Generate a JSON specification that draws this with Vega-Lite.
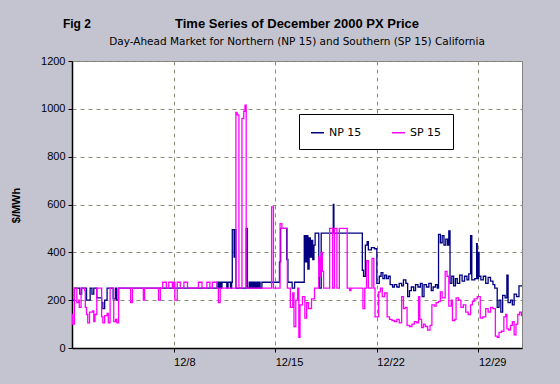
{
"$schema": "https://vega.github.io/schema/vega-lite/v6.json",
"width": 450, "height": 287,
"autosize": "none",
"padding": {"left": 72, "top": 61, "right": 38, "bottom": 36},
"background": "#c3c4d0",
"config": {"view": {"fill": "white", "stroke": "#808080", "strokeWidth": 1}, "font": "Liberation Sans"},
"title": {"text": "Time Series of December 2000 PX Price", "subtitle": "Day-Ahead Market for Northern (NP 15) and Southern (SP 15) California", "font": "Liberation Sans", "fontSize": 13, "fontWeight": "bold", "subtitleFont": "DejaVu Sans", "subtitleFontSize": 10.5, "color": "black", "subtitleColor": "black", "anchor": "middle", "frame": "group", "offset": -30, "subtitlePadding": 6},
"layer": [
{
"data": {"values": [
{"t":"2000-12-01T00:00","s":"NP 15","v":200},
{"t":"2000-12-01T04:00","s":"NP 15","v":250},
{"t":"2000-12-01T13:00","s":"NP 15","v":225},
{"t":"2000-12-01T16:00","s":"NP 15","v":250},
{"t":"2000-12-02T00:00","s":"NP 15","v":200},
{"t":"2000-12-02T06:00","s":"NP 15","v":250},
{"t":"2000-12-02T09:00","s":"NP 15","v":225},
{"t":"2000-12-02T12:00","s":"NP 15","v":250},
{"t":"2000-12-02T17:00","s":"NP 15","v":210},
{"t":"2000-12-03T01:00","s":"NP 15","v":190},
{"t":"2000-12-03T03:00","s":"NP 15","v":165},
{"t":"2000-12-03T06:00","s":"NP 15","v":200},
{"t":"2000-12-03T10:00","s":"NP 15","v":250},
{"t":"2000-12-03T20:00","s":"NP 15","v":205},
{"t":"2000-12-04T00:00","s":"NP 15","v":250},
{"t":"2000-12-04T02:00","s":"NP 15","v":200},
{"t":"2000-12-04T05:00","s":"NP 15","v":250},
{"t":"2000-12-11T00:00","s":"NP 15","v":275},
{"t":"2000-12-11T02:00","s":"NP 15","v":250},
{"t":"2000-12-11T04:00","s":"NP 15","v":275},
{"t":"2000-12-11T06:00","s":"NP 15","v":250},
{"t":"2000-12-11T08:00","s":"NP 15","v":275},
{"t":"2000-12-11T16:00","s":"NP 15","v":250},
{"t":"2000-12-11T18:00","s":"NP 15","v":275},
{"t":"2000-12-11T22:00","s":"NP 15","v":250},
{"t":"2000-12-12T00:00","s":"NP 15","v":275},
{"t":"2000-12-12T01:00","s":"NP 15","v":495},
{"t":"2000-12-12T04:00","s":"NP 15","v":380},
{"t":"2000-12-12T06:00","s":"NP 15","v":495},
{"t":"2000-12-12T07:00","s":"NP 15","v":250},
{"t":"2000-12-13T00:00","s":"NP 15","v":500},
{"t":"2000-12-13T02:00","s":"NP 15","v":250},
{"t":"2000-12-13T05:00","s":"NP 15","v":275},
{"t":"2000-12-13T07:00","s":"NP 15","v":250},
{"t":"2000-12-13T09:00","s":"NP 15","v":275},
{"t":"2000-12-13T11:00","s":"NP 15","v":250},
{"t":"2000-12-13T13:00","s":"NP 15","v":275},
{"t":"2000-12-13T15:00","s":"NP 15","v":250},
{"t":"2000-12-13T17:00","s":"NP 15","v":275},
{"t":"2000-12-13T19:00","s":"NP 15","v":250},
{"t":"2000-12-13T21:00","s":"NP 15","v":275},
{"t":"2000-12-13T23:00","s":"NP 15","v":250},
{"t":"2000-12-14T02:00","s":"NP 15","v":275},
{"t":"2000-12-15T07:00","s":"NP 15","v":360},
{"t":"2000-12-15T09:00","s":"NP 15","v":500},
{"t":"2000-12-15T19:00","s":"NP 15","v":370},
{"t":"2000-12-15T21:00","s":"NP 15","v":275},
{"t":"2000-12-16T04:00","s":"NP 15","v":250},
{"t":"2000-12-16T08:00","s":"NP 15","v":275},
{"t":"2000-12-17T00:00","s":"NP 15","v":470},
{"t":"2000-12-17T02:00","s":"NP 15","v":360},
{"t":"2000-12-17T04:00","s":"NP 15","v":470},
{"t":"2000-12-17T06:00","s":"NP 15","v":330},
{"t":"2000-12-17T08:00","s":"NP 15","v":460},
{"t":"2000-12-17T10:00","s":"NP 15","v":380},
{"t":"2000-12-17T12:00","s":"NP 15","v":450},
{"t":"2000-12-17T14:00","s":"NP 15","v":370},
{"t":"2000-12-17T16:00","s":"NP 15","v":430},
{"t":"2000-12-17T18:00","s":"NP 15","v":480},
{"t":"2000-12-18T00:00","s":"NP 15","v":360},
{"t":"2000-12-18T01:00","s":"NP 15","v":250},
{"t":"2000-12-18T04:00","s":"NP 15","v":480},
{"t":"2000-12-19T00:00","s":"NP 15","v":600},
{"t":"2000-12-19T01:00","s":"NP 15","v":480},
{"t":"2000-12-21T00:00","s":"NP 15","v":325},
{"t":"2000-12-21T02:00","s":"NP 15","v":300},
{"t":"2000-12-21T05:00","s":"NP 15","v":430},
{"t":"2000-12-21T08:00","s":"NP 15","v":445},
{"t":"2000-12-21T10:00","s":"NP 15","v":410},
{"t":"2000-12-21T15:00","s":"NP 15","v":420},
{"t":"2000-12-21T20:00","s":"NP 15","v":415},
{"t":"2000-12-22T00:00","s":"NP 15","v":270},
{"t":"2000-12-22T04:00","s":"NP 15","v":300},
{"t":"2000-12-22T07:00","s":"NP 15","v":315},
{"t":"2000-12-22T10:00","s":"NP 15","v":290},
{"t":"2000-12-22T13:00","s":"NP 15","v":305},
{"t":"2000-12-22T16:00","s":"NP 15","v":290},
{"t":"2000-12-22T19:00","s":"NP 15","v":300},
{"t":"2000-12-22T22:00","s":"NP 15","v":265},
{"t":"2000-12-23T02:00","s":"NP 15","v":255},
{"t":"2000-12-23T05:00","s":"NP 15","v":265},
{"t":"2000-12-23T09:00","s":"NP 15","v":255},
{"t":"2000-12-23T13:00","s":"NP 15","v":270},
{"t":"2000-12-23T17:00","s":"NP 15","v":260},
{"t":"2000-12-23T20:00","s":"NP 15","v":285},
{"t":"2000-12-24T00:00","s":"NP 15","v":270},
{"t":"2000-12-24T03:00","s":"NP 15","v":215},
{"t":"2000-12-24T06:00","s":"NP 15","v":240},
{"t":"2000-12-24T09:00","s":"NP 15","v":255},
{"t":"2000-12-24T13:00","s":"NP 15","v":240},
{"t":"2000-12-24T16:00","s":"NP 15","v":265},
{"t":"2000-12-24T20:00","s":"NP 15","v":255},
{"t":"2000-12-25T00:00","s":"NP 15","v":270},
{"t":"2000-12-25T03:00","s":"NP 15","v":215},
{"t":"2000-12-25T06:00","s":"NP 15","v":265},
{"t":"2000-12-25T10:00","s":"NP 15","v":255},
{"t":"2000-12-25T14:00","s":"NP 15","v":270},
{"t":"2000-12-25T18:00","s":"NP 15","v":240},
{"t":"2000-12-25T21:00","s":"NP 15","v":255},
{"t":"2000-12-26T01:00","s":"NP 15","v":265},
{"t":"2000-12-26T04:00","s":"NP 15","v":250},
{"t":"2000-12-26T06:00","s":"NP 15","v":475},
{"t":"2000-12-26T09:00","s":"NP 15","v":440},
{"t":"2000-12-26T12:00","s":"NP 15","v":470},
{"t":"2000-12-26T15:00","s":"NP 15","v":430},
{"t":"2000-12-26T18:00","s":"NP 15","v":455},
{"t":"2000-12-26T21:00","s":"NP 15","v":430},
{"t":"2000-12-26T23:00","s":"NP 15","v":490},
{"t":"2000-12-27T01:00","s":"NP 15","v":270},
{"t":"2000-12-27T04:00","s":"NP 15","v":300},
{"t":"2000-12-27T07:00","s":"NP 15","v":260},
{"t":"2000-12-27T10:00","s":"NP 15","v":290},
{"t":"2000-12-27T13:00","s":"NP 15","v":270},
{"t":"2000-12-27T17:00","s":"NP 15","v":305},
{"t":"2000-12-27T21:00","s":"NP 15","v":280},
{"t":"2000-12-28T01:00","s":"NP 15","v":300},
{"t":"2000-12-28T05:00","s":"NP 15","v":285},
{"t":"2000-12-28T08:00","s":"NP 15","v":310},
{"t":"2000-12-28T11:00","s":"NP 15","v":470},
{"t":"2000-12-28T13:00","s":"NP 15","v":285},
{"t":"2000-12-28T18:00","s":"NP 15","v":290},
{"t":"2000-12-28T21:00","s":"NP 15","v":436},
{"t":"2000-12-28T22:00","s":"NP 15","v":290},
{"t":"2000-12-29T00:00","s":"NP 15","v":400},
{"t":"2000-12-29T01:00","s":"NP 15","v":300},
{"t":"2000-12-29T04:00","s":"NP 15","v":285},
{"t":"2000-12-29T08:00","s":"NP 15","v":300},
{"t":"2000-12-29T12:00","s":"NP 15","v":270},
{"t":"2000-12-29T16:00","s":"NP 15","v":295},
{"t":"2000-12-29T20:00","s":"NP 15","v":280},
{"t":"2000-12-30T00:00","s":"NP 15","v":265},
{"t":"2000-12-30T03:00","s":"NP 15","v":250},
{"t":"2000-12-30T07:00","s":"NP 15","v":170},
{"t":"2000-12-30T10:00","s":"NP 15","v":200},
{"t":"2000-12-30T13:00","s":"NP 15","v":150},
{"t":"2000-12-30T16:00","s":"NP 15","v":220},
{"t":"2000-12-30T20:00","s":"NP 15","v":210},
{"t":"2000-12-30T23:00","s":"NP 15","v":305},
{"t":"2000-12-31T01:00","s":"NP 15","v":190},
{"t":"2000-12-31T05:00","s":"NP 15","v":200},
{"t":"2000-12-31T08:00","s":"NP 15","v":180},
{"t":"2000-12-31T11:00","s":"NP 15","v":225},
{"t":"2000-12-31T15:00","s":"NP 15","v":215},
{"t":"2000-12-31T19:00","s":"NP 15","v":260},
{"t":"2001-01-01T00:00","s":"NP 15","v":260},
{"t":"2000-12-01T00:00","s":"SP 15","v":140},
{"t":"2000-12-01T01:00","s":"SP 15","v":100},
{"t":"2000-12-01T04:00","s":"SP 15","v":250},
{"t":"2000-12-01T08:00","s":"SP 15","v":190},
{"t":"2000-12-01T11:00","s":"SP 15","v":200},
{"t":"2000-12-01T12:00","s":"SP 15","v":170},
{"t":"2000-12-01T15:00","s":"SP 15","v":250},
{"t":"2000-12-01T21:00","s":"SP 15","v":240},
{"t":"2000-12-01T22:00","s":"SP 15","v":170},
{"t":"2000-12-02T00:00","s":"SP 15","v":140},
{"t":"2000-12-02T02:00","s":"SP 15","v":105},
{"t":"2000-12-02T05:00","s":"SP 15","v":150},
{"t":"2000-12-02T10:00","s":"SP 15","v":155},
{"t":"2000-12-02T12:00","s":"SP 15","v":110},
{"t":"2000-12-02T14:00","s":"SP 15","v":140},
{"t":"2000-12-02T17:00","s":"SP 15","v":250},
{"t":"2000-12-03T01:00","s":"SP 15","v":130},
{"t":"2000-12-03T03:00","s":"SP 15","v":105},
{"t":"2000-12-03T06:00","s":"SP 15","v":135},
{"t":"2000-12-03T10:00","s":"SP 15","v":145},
{"t":"2000-12-03T12:00","s":"SP 15","v":105},
{"t":"2000-12-03T15:00","s":"SP 15","v":250},
{"t":"2000-12-03T21:00","s":"SP 15","v":110},
{"t":"2000-12-04T00:00","s":"SP 15","v":120},
{"t":"2000-12-04T02:00","s":"SP 15","v":105},
{"t":"2000-12-04T05:00","s":"SP 15","v":250},
{"t":"2000-12-05T01:00","s":"SP 15","v":190},
{"t":"2000-12-05T04:00","s":"SP 15","v":250},
{"t":"2000-12-05T22:00","s":"SP 15","v":200},
{"t":"2000-12-06T00:00","s":"SP 15","v":250},
{"t":"2000-12-06T23:00","s":"SP 15","v":200},
{"t":"2000-12-07T02:00","s":"SP 15","v":250},
{"t":"2000-12-07T06:00","s":"SP 15","v":275},
{"t":"2000-12-07T12:00","s":"SP 15","v":250},
{"t":"2000-12-07T16:00","s":"SP 15","v":275},
{"t":"2000-12-07T22:00","s":"SP 15","v":250},
{"t":"2000-12-08T00:00","s":"SP 15","v":275},
{"t":"2000-12-08T02:00","s":"SP 15","v":200},
{"t":"2000-12-08T06:00","s":"SP 15","v":275},
{"t":"2000-12-08T11:00","s":"SP 15","v":250},
{"t":"2000-12-08T17:00","s":"SP 15","v":275},
{"t":"2000-12-08T23:00","s":"SP 15","v":250},
{"t":"2000-12-09T17:00","s":"SP 15","v":275},
{"t":"2000-12-09T23:00","s":"SP 15","v":250},
{"t":"2000-12-10T07:00","s":"SP 15","v":275},
{"t":"2000-12-10T12:00","s":"SP 15","v":250},
{"t":"2000-12-10T16:00","s":"SP 15","v":275},
{"t":"2000-12-11T00:00","s":"SP 15","v":250},
{"t":"2000-12-11T02:00","s":"SP 15","v":190},
{"t":"2000-12-11T05:00","s":"SP 15","v":250},
{"t":"2000-12-12T07:00","s":"SP 15","v":985},
{"t":"2000-12-12T09:00","s":"SP 15","v":975},
{"t":"2000-12-12T12:00","s":"SP 15","v":250},
{"t":"2000-12-12T17:00","s":"SP 15","v":960},
{"t":"2000-12-12T20:00","s":"SP 15","v":990},
{"t":"2000-12-12T22:00","s":"SP 15","v":1015},
{"t":"2000-12-13T00:00","s":"SP 15","v":250},
{"t":"2000-12-14T18:00","s":"SP 15","v":590},
{"t":"2000-12-14T21:00","s":"SP 15","v":250},
{"t":"2000-12-15T08:00","s":"SP 15","v":520},
{"t":"2000-12-15T11:00","s":"SP 15","v":500},
{"t":"2000-12-15T20:00","s":"SP 15","v":250},
{"t":"2000-12-16T01:00","s":"SP 15","v":170},
{"t":"2000-12-16T05:00","s":"SP 15","v":230},
{"t":"2000-12-16T07:00","s":"SP 15","v":90},
{"t":"2000-12-16T10:00","s":"SP 15","v":200},
{"t":"2000-12-16T13:00","s":"SP 15","v":250},
{"t":"2000-12-16T15:00","s":"SP 15","v":45},
{"t":"2000-12-16T17:00","s":"SP 15","v":180},
{"t":"2000-12-16T21:00","s":"SP 15","v":215},
{"t":"2000-12-17T01:00","s":"SP 15","v":125},
{"t":"2000-12-17T04:00","s":"SP 15","v":190},
{"t":"2000-12-17T07:00","s":"SP 15","v":165},
{"t":"2000-12-17T12:00","s":"SP 15","v":205},
{"t":"2000-12-17T17:00","s":"SP 15","v":250},
{"t":"2000-12-18T00:00","s":"SP 15","v":380},
{"t":"2000-12-18T02:00","s":"SP 15","v":300},
{"t":"2000-12-18T04:00","s":"SP 15","v":400},
{"t":"2000-12-18T06:00","s":"SP 15","v":320},
{"t":"2000-12-18T08:00","s":"SP 15","v":250},
{"t":"2000-12-18T18:00","s":"SP 15","v":500},
{"t":"2000-12-18T23:00","s":"SP 15","v":250},
{"t":"2000-12-19T02:00","s":"SP 15","v":500},
{"t":"2000-12-19T06:00","s":"SP 15","v":250},
{"t":"2000-12-19T10:00","s":"SP 15","v":500},
{"t":"2000-12-19T23:00","s":"SP 15","v":250},
{"t":"2000-12-20T03:00","s":"SP 15","v":240},
{"t":"2000-12-20T05:00","s":"SP 15","v":250},
{"t":"2000-12-21T01:00","s":"SP 15","v":165},
{"t":"2000-12-21T04:00","s":"SP 15","v":250},
{"t":"2000-12-21T07:00","s":"SP 15","v":365},
{"t":"2000-12-21T10:00","s":"SP 15","v":250},
{"t":"2000-12-21T16:00","s":"SP 15","v":375},
{"t":"2000-12-21T19:00","s":"SP 15","v":250},
{"t":"2000-12-21T21:00","s":"SP 15","v":130},
{"t":"2000-12-22T03:00","s":"SP 15","v":235},
{"t":"2000-12-22T06:00","s":"SP 15","v":250},
{"t":"2000-12-22T09:00","s":"SP 15","v":215},
{"t":"2000-12-22T13:00","s":"SP 15","v":230},
{"t":"2000-12-22T17:00","s":"SP 15","v":130},
{"t":"2000-12-22T21:00","s":"SP 15","v":120},
{"t":"2000-12-23T01:00","s":"SP 15","v":115},
{"t":"2000-12-23T05:00","s":"SP 15","v":110},
{"t":"2000-12-23T09:00","s":"SP 15","v":120},
{"t":"2000-12-23T13:00","s":"SP 15","v":105},
{"t":"2000-12-23T17:00","s":"SP 15","v":215},
{"t":"2000-12-23T20:00","s":"SP 15","v":165},
{"t":"2000-12-23T23:00","s":"SP 15","v":170},
{"t":"2000-12-24T02:00","s":"SP 15","v":95},
{"t":"2000-12-24T06:00","s":"SP 15","v":90},
{"t":"2000-12-24T10:00","s":"SP 15","v":100},
{"t":"2000-12-24T14:00","s":"SP 15","v":110},
{"t":"2000-12-24T18:00","s":"SP 15","v":105},
{"t":"2000-12-24T21:00","s":"SP 15","v":215},
{"t":"2000-12-24T23:00","s":"SP 15","v":120},
{"t":"2000-12-25T02:00","s":"SP 15","v":85},
{"t":"2000-12-25T05:00","s":"SP 15","v":100},
{"t":"2000-12-25T08:00","s":"SP 15","v":90},
{"t":"2000-12-25T12:00","s":"SP 15","v":75},
{"t":"2000-12-25T16:00","s":"SP 15","v":95},
{"t":"2000-12-25T19:00","s":"SP 15","v":180},
{"t":"2000-12-25T23:00","s":"SP 15","v":175},
{"t":"2000-12-26T02:00","s":"SP 15","v":190},
{"t":"2000-12-26T06:00","s":"SP 15","v":195},
{"t":"2000-12-26T09:00","s":"SP 15","v":235},
{"t":"2000-12-26T12:00","s":"SP 15","v":210},
{"t":"2000-12-26T17:00","s":"SP 15","v":320},
{"t":"2000-12-26T20:00","s":"SP 15","v":300},
{"t":"2000-12-26T23:00","s":"SP 15","v":175},
{"t":"2000-12-27T03:00","s":"SP 15","v":200},
{"t":"2000-12-27T05:00","s":"SP 15","v":115},
{"t":"2000-12-27T09:00","s":"SP 15","v":120},
{"t":"2000-12-27T11:00","s":"SP 15","v":210},
{"t":"2000-12-27T15:00","s":"SP 15","v":200},
{"t":"2000-12-27T19:00","s":"SP 15","v":170},
{"t":"2000-12-27T23:00","s":"SP 15","v":180},
{"t":"2000-12-28T03:00","s":"SP 15","v":150},
{"t":"2000-12-28T07:00","s":"SP 15","v":140},
{"t":"2000-12-28T11:00","s":"SP 15","v":180},
{"t":"2000-12-28T14:00","s":"SP 15","v":195},
{"t":"2000-12-28T17:00","s":"SP 15","v":205},
{"t":"2000-12-28T22:00","s":"SP 15","v":215},
{"t":"2000-12-29T03:00","s":"SP 15","v":125},
{"t":"2000-12-29T07:00","s":"SP 15","v":130},
{"t":"2000-12-29T12:00","s":"SP 15","v":165},
{"t":"2000-12-29T16:00","s":"SP 15","v":150},
{"t":"2000-12-29T20:00","s":"SP 15","v":170},
{"t":"2000-12-30T00:00","s":"SP 15","v":165},
{"t":"2000-12-30T04:00","s":"SP 15","v":50},
{"t":"2000-12-30T07:00","s":"SP 15","v":45},
{"t":"2000-12-30T10:00","s":"SP 15","v":65},
{"t":"2000-12-30T14:00","s":"SP 15","v":70},
{"t":"2000-12-30T18:00","s":"SP 15","v":130},
{"t":"2000-12-30T21:00","s":"SP 15","v":140},
{"t":"2000-12-30T23:00","s":"SP 15","v":80},
{"t":"2000-12-31T02:00","s":"SP 15","v":75},
{"t":"2000-12-31T05:00","s":"SP 15","v":95},
{"t":"2000-12-31T08:00","s":"SP 15","v":110},
{"t":"2000-12-31T11:00","s":"SP 15","v":55},
{"t":"2000-12-31T14:00","s":"SP 15","v":100},
{"t":"2000-12-31T17:00","s":"SP 15","v":140},
{"t":"2000-12-31T20:00","s":"SP 15","v":150},
{"t":"2000-12-31T23:00","s":"SP 15","v":135},
{"t":"2001-01-01T00:00","s":"SP 15","v":135}
]},
"mark": {"type": "line", "interpolate": "step-after", "strokeWidth": 1.3, "clip": true},
"encoding": {
"x": {"field": "t", "type": "temporal",
 "scale": {"domain": [{"year": 2000, "month": 12, "date": 1}, {"year": 2001, "month": 1, "date": 1}]},
 "axis": {"title": null, "values": [{"year": 2000, "month": 12, "date": 8}, {"year": 2000, "month": 12, "date": 15}, {"year": 2000, "month": 12, "date": 22}, {"year": 2000, "month": 12, "date": 29}],
  "format": "%-m/%-d", "grid": true, "gridColor": "#8c8c78", "gridDash": [4, 4], "gridWidth": 1,
  "domainColor": "black", "domainWidth": 1.5, "tickColor": "black", "tickSize": 4,
  "labelFont": "Liberation Sans", "labelFontSize": 11, "labelColor": "black", "labelAlign": "left", "labelDx": 3, "labelPadding": 4}},
"y": {"field": "v", "type": "quantitative",
 "scale": {"domain": [0, 1200]},
 "axis": {"title": "$/MWh", "values": [0, 200, 400, 600, 800, 1000, 1200], "format": "d",
  "grid": true, "gridColor": "#8c8c78", "gridDash": [4, 4], "gridWidth": 1,
  "domainColor": "black", "domainWidth": 1.5, "tickColor": "black", "tickSize": 4,
  "labelFont": "Liberation Sans", "labelFontSize": 11, "labelColor": "black", "labelPadding": 3,
  "titleFont": "Liberation Sans", "titleFontSize": 11, "titleFontWeight": "bold", "titleColor": "black", "titleX": -51, "titleY": 144}},
"color": {"field": "s", "type": "nominal",
 "scale": {"domain": ["NP 15", "SP 15"], "range": ["#000080", "#ff00ff"]},
 "legend": {"title": null, "orient": "none", "legendX": 227, "legendY": 53, "direction": "horizontal",
  "symbolType": "stroke", "symbolSize": 169, "symbolStrokeWidth": 1.5,
  "labelFont": "DejaVu Sans", "labelFontSize": 11, "labelColor": "black", "labelOffset": 4,
  "columnPadding": 27, "padding": 11, "strokeColor": "black", "fillColor": "white"}}
}
},
{
"data": {"values": [{"label": "Fig 2"}]},
"mark": {"type": "text", "align": "left", "baseline": "middle", "font": "Liberation Sans", "fontSize": 12, "fontWeight": "bold", "color": "black"},
"encoding": {
"x": {"datum": {"year": 2000, "month": 11, "date": 30, "hours": 9}, "type": "temporal"},
"y": {"datum": 1355, "type": "quantitative"},
"text": {"field": "label"}
}
}
]
}
